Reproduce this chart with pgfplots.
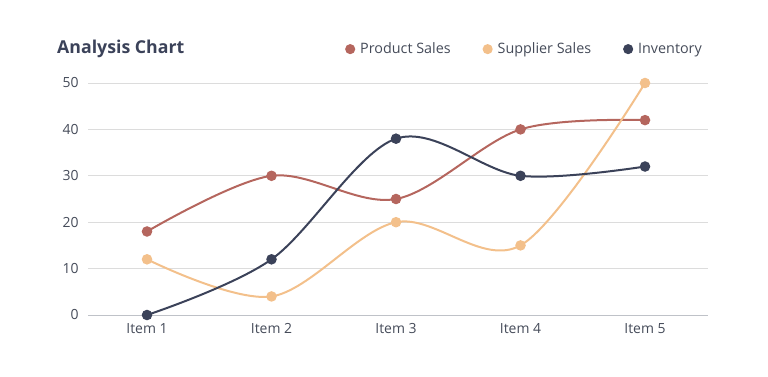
\documentclass[border=0pt]{standalone}
\usepackage{fontspec}
\setmainfont{Open Sans}
\usepackage{pgfplots}
\pgfplotsset{compat=1.18}
\definecolor{prod}{HTML}{B5665E}
\definecolor{supp}{HTML}{F3C08B}
\definecolor{inv}{HTML}{3B4259}
\definecolor{titlec}{HTML}{3B4259}
\definecolor{tickc}{HTML}{454B59}
\definecolor{gridc}{HTML}{DCDCDC}
\definecolor{axisc}{HTML}{BFC2C8}
\begin{document}
\begin{tikzpicture}[x=1bp,y=1bp]
\path (0,0) rectangle (768,376);
\node[anchor=west, font=\bfseries\fontsize{17.8}{21}\selectfont, text=titlec, inner sep=0] at (57,327) {Analysis Chart};
\begin{axis}[
  at={(88bp,61bp)}, anchor=south west,
  scale only axis, width=620bp, height=232bp,
  xmin=0.526, xmax=5.506, ymin=0, ymax=50,
  axis x line*=bottom, axis y line*=left,
  x axis line style={color=axisc, line width=1bp},
  y axis line style={draw=none},
  major tick length=0pt,
  xtick={1,2,3,4,5},
  xticklabels={Item 1,Item 2,Item 3,Item 4,Item 5},
  ytick={0,10,20,30,40,50},
  ymajorgrids, grid style={color=gridc, line width=0.8bp},
  /pgf/number format/assume math mode=true,
  ticklabel style={font=\fontsize{14}{16}\selectfont, text=tickc},
  yticklabel style={xshift=-6bp},
  xticklabel style={yshift=-5bp},
  legend columns=3,
  legend image code/.code={\fill[#1] (0bp,0bp) circle (4bp);},
  legend style={at={(1,1.146)}, anchor=east, xshift=-4bp, draw=none, fill=none,
    font=\fontsize{14.4}{16}\selectfont, text=tickc, inner sep=0pt,
    cells={anchor=west},
    /tikz/every odd column/.style={column sep=3bp},
    /tikz/every even column/.style={column sep=30bp}},
]
\addplot[prod, line width=2bp, smooth, tension=0.55, mark=*, mark size=4.5, mark options={fill=prod, line width=1.5bp}] coordinates {(1,18)(2,30)(3,25)(4,40)(5,42)};
\addlegendentry{Product Sales}
\addplot[supp, line width=2bp, smooth, tension=0.55, mark=*, mark size=4.5, mark options={fill=supp, line width=1.5bp}] coordinates {(1,12)(2,4)(3,20)(4,15)(5,50)};
\addlegendentry{Supplier Sales}
\addplot[inv, line width=2bp, smooth, tension=0.55, mark=*, mark size=4.5, mark options={fill=inv, line width=1.5bp}] coordinates {(1,0)(2,12)(3,38)(4,30)(5,32)};
\addlegendentry{Inventory}
\end{axis}
\end{tikzpicture}
\end{document}
